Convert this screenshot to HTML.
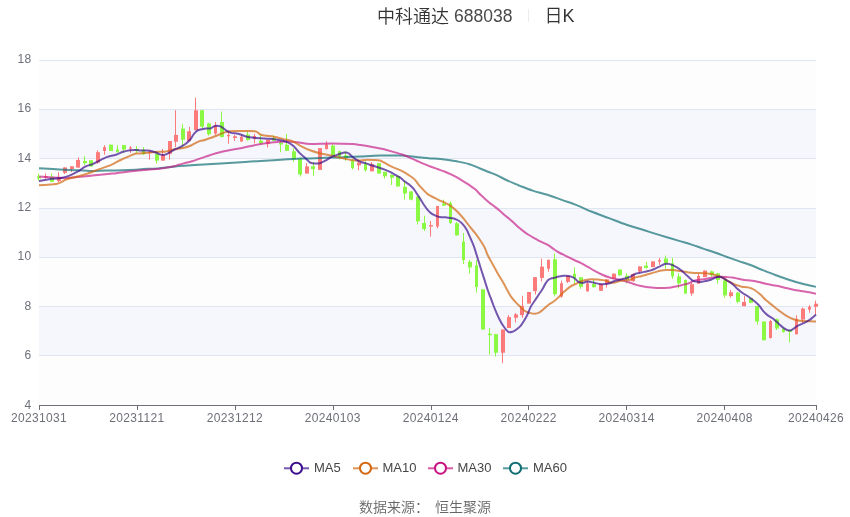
<!DOCTYPE html>
<html><head><meta charset="utf-8"><title>中科通达 688038 日K</title>
<style>
html,body{margin:0;padding:0;background:#fff;}
body{width:850px;height:517px;position:relative;overflow:hidden;}
#root{position:absolute;left:0;top:0;width:850px;height:517px;will-change:transform;font-family:"Liberation Sans","Noto Sans CJK SC",sans-serif;}
.ax{font-family:"Liberation Sans",sans-serif;font-size:12px;fill:#6e7079;letter-spacing:0.35px;}
.title{position:absolute;top:5px;font-size:18px;color:#333;white-space:nowrap;line-height:24px;font-family:"Liberation Sans","Noto Sans CJK SC",sans-serif;font-weight:350;}
.sep{position:absolute;left:528px;top:9px;width:1px;height:13px;background:#ebecf0;}
.legend{position:absolute;top:459px;height:18px;}
.lg{position:absolute;top:0;height:18px;}
.lg span{position:absolute;left:30px;top:0;font-size:13px;line-height:18px;color:#464646;white-space:nowrap;}
.foot{position:absolute;top:497px;font-size:14px;line-height:20px;color:#666;white-space:nowrap;font-family:"Liberation Sans","Noto Sans CJK SC",sans-serif;font-weight:350;}
</style></head><body><div id="root">
<svg width="850" height="517" viewBox="0 0 850 517" style="position:absolute;left:0;top:0">
<rect x="39" y="61" width="777" height="48" fill="#fdfdfd" shape-rendering="crispEdges"/>
<rect x="39" y="110" width="777" height="48" fill="#f6f7fc" shape-rendering="crispEdges"/>
<rect x="39" y="159" width="777" height="49" fill="#fdfdfd" shape-rendering="crispEdges"/>
<rect x="39" y="209" width="777" height="48" fill="#f6f7fc" shape-rendering="crispEdges"/>
<rect x="39" y="258" width="777" height="48" fill="#fdfdfd" shape-rendering="crispEdges"/>
<rect x="39" y="307" width="777" height="48" fill="#f6f7fc" shape-rendering="crispEdges"/>
<rect x="39" y="356" width="777" height="49" fill="#fdfdfd" shape-rendering="crispEdges"/>
<rect x="39" y="60" width="777" height="1" fill="#e0e6f1" shape-rendering="crispEdges"/>
<rect x="39" y="109" width="777" height="1" fill="#e0e6f1" shape-rendering="crispEdges"/>
<rect x="39" y="158" width="777" height="1" fill="#e0e6f1" shape-rendering="crispEdges"/>
<rect x="39" y="208" width="777" height="1" fill="#e0e6f1" shape-rendering="crispEdges"/>
<rect x="39" y="257" width="777" height="1" fill="#e0e6f1" shape-rendering="crispEdges"/>
<rect x="39" y="306" width="777" height="1" fill="#e0e6f1" shape-rendering="crispEdges"/>
<rect x="39" y="355" width="777" height="1" fill="#e0e6f1" shape-rendering="crispEdges"/>
<rect x="39" y="405" width="777" height="1" fill="#6e7079" shape-rendering="crispEdges"/>
<rect x="39" y="405" width="1" height="5" fill="#6e7079" shape-rendering="crispEdges"/>
<rect x="137" y="405" width="1" height="5" fill="#6e7079" shape-rendering="crispEdges"/>
<rect x="235" y="405" width="1" height="5" fill="#6e7079" shape-rendering="crispEdges"/>
<rect x="333" y="405" width="1" height="5" fill="#6e7079" shape-rendering="crispEdges"/>
<rect x="431" y="405" width="1" height="5" fill="#6e7079" shape-rendering="crispEdges"/>
<rect x="528" y="405" width="1" height="5" fill="#6e7079" shape-rendering="crispEdges"/>
<rect x="626" y="405" width="1" height="5" fill="#6e7079" shape-rendering="crispEdges"/>
<rect x="724" y="405" width="1" height="5" fill="#6e7079" shape-rendering="crispEdges"/>
<rect x="816" y="405" width="1" height="5" fill="#6e7079" shape-rendering="crispEdges"/>
<text x="31.5" y="58.5" text-anchor="end" dominant-baseline="central" class="ax">18</text>
<text x="31.5" y="107.8" text-anchor="end" dominant-baseline="central" class="ax">16</text>
<text x="31.5" y="158.1" text-anchor="end" dominant-baseline="central" class="ax">14</text>
<text x="31.5" y="207.4" text-anchor="end" dominant-baseline="central" class="ax">12</text>
<text x="31.5" y="255.6" text-anchor="end" dominant-baseline="central" class="ax">10</text>
<text x="31.5" y="305.9" text-anchor="end" dominant-baseline="central" class="ax">8</text>
<text x="31.5" y="355.2" text-anchor="end" dominant-baseline="central" class="ax">6</text>
<text x="31.5" y="404.5" text-anchor="end" dominant-baseline="central" class="ax">4</text>
<text x="39.0" y="422" text-anchor="middle" class="ax">20231031</text>
<text x="136.9" y="422" text-anchor="middle" class="ax">20231121</text>
<text x="234.9" y="422" text-anchor="middle" class="ax">20231212</text>
<text x="332.8" y="422" text-anchor="middle" class="ax">20240103</text>
<text x="430.8" y="422" text-anchor="middle" class="ax">20240124</text>
<text x="528.7" y="422" text-anchor="middle" class="ax">20240222</text>
<text x="626.6" y="422" text-anchor="middle" class="ax">20240314</text>
<text x="724.6" y="422" text-anchor="middle" class="ax">20240408</text>
<text x="816.0" y="422" text-anchor="middle" class="ax">20240426</text>
<rect x="38" y="173.70" width="1" height="7.00" fill="#8bf944"/>
<rect x="37" y="176.50" width="4" height="2.00" fill="#8bf944"/>
<rect x="45" y="173.50" width="1" height="5.30" fill="#fd7a7a"/>
<rect x="44" y="176.30" width="4" height="1.30" fill="#fd7a7a"/>
<rect x="51" y="173.50" width="1" height="8.30" fill="#8bf944"/>
<rect x="50" y="176.80" width="4" height="5.00" fill="#8bf944"/>
<rect x="58" y="172.20" width="1" height="9.80" fill="#fd7a7a"/>
<rect x="57" y="176.90" width="4" height="4.20" fill="#fd7a7a"/>
<rect x="64" y="167.40" width="1" height="6.60" fill="#fd7a7a"/>
<rect x="63" y="167.40" width="4" height="5.50" fill="#fd7a7a"/>
<rect x="71" y="166.30" width="1" height="5.70" fill="#fd7a7a"/>
<rect x="70" y="166.30" width="4" height="2.70" fill="#fd7a7a"/>
<rect x="78" y="157.40" width="1" height="10.20" fill="#fd7a7a"/>
<rect x="76" y="159.90" width="4" height="7.70" fill="#fd7a7a"/>
<rect x="84" y="156.20" width="1" height="8.80" fill="#8bf944"/>
<rect x="83" y="161.00" width="4" height="2.20" fill="#8bf944"/>
<rect x="91" y="160.30" width="1" height="6.30" fill="#8bf944"/>
<rect x="89" y="160.30" width="4" height="6.10" fill="#8bf944"/>
<rect x="97" y="150.40" width="1" height="13.40" fill="#fd7a7a"/>
<rect x="96" y="152.20" width="4" height="10.50" fill="#fd7a7a"/>
<rect x="104" y="145.20" width="1" height="9.60" fill="#fd7a7a"/>
<rect x="103" y="147.10" width="3" height="3.90" fill="#fd7a7a"/>
<rect x="110" y="144.40" width="1" height="6.60" fill="#8bf944"/>
<rect x="109" y="144.70" width="4" height="6.30" fill="#8bf944"/>
<rect x="117" y="145.20" width="1" height="7.70" fill="#8bf944"/>
<rect x="116" y="149.50" width="3" height="2.40" fill="#8bf944"/>
<rect x="123" y="145.00" width="1" height="7.90" fill="#8bf944"/>
<rect x="122" y="145.00" width="4" height="4.50" fill="#8bf944"/>
<rect x="130" y="146.10" width="1" height="6.80" fill="#fd7a7a"/>
<rect x="129" y="147.40" width="3" height="1.10" fill="#fd7a7a"/>
<rect x="136" y="146.10" width="1" height="6.80" fill="#8bf944"/>
<rect x="135" y="149.00" width="4" height="2.00" fill="#8bf944"/>
<rect x="143" y="147.10" width="1" height="7.70" fill="#8bf944"/>
<rect x="142" y="149.50" width="3" height="4.80" fill="#8bf944"/>
<rect x="149" y="151.00" width="1" height="8.70" fill="#fd7a7a"/>
<rect x="148" y="152.00" width="4" height="1.00" fill="#fd7a7a"/>
<rect x="156" y="151.00" width="1" height="12.50" fill="#8bf944"/>
<rect x="155" y="153.90" width="4" height="6.70" fill="#8bf944"/>
<rect x="162" y="149.00" width="1" height="11.60" fill="#fd7a7a"/>
<rect x="161" y="154.80" width="4" height="5.80" fill="#fd7a7a"/>
<rect x="169" y="141.00" width="1" height="18.70" fill="#fd7a7a"/>
<rect x="168" y="141.00" width="4" height="12.90" fill="#fd7a7a"/>
<rect x="175" y="110.20" width="1" height="36.90" fill="#fd7a7a"/>
<rect x="174" y="134.90" width="4" height="6.80" fill="#fd7a7a"/>
<rect x="182" y="124.10" width="1" height="22.30" fill="#8bf944"/>
<rect x="181" y="128.60" width="4" height="11.10" fill="#8bf944"/>
<rect x="189" y="126.80" width="1" height="14.20" fill="#fd7a7a"/>
<rect x="187" y="131.30" width="4" height="9.70" fill="#fd7a7a"/>
<rect x="195" y="97.70" width="1" height="32.40" fill="#fd7a7a"/>
<rect x="194" y="110.30" width="4" height="19.80" fill="#fd7a7a"/>
<rect x="202" y="110.20" width="1" height="18.10" fill="#8bf944"/>
<rect x="200" y="110.20" width="4" height="16.50" fill="#8bf944"/>
<rect x="208" y="122.70" width="1" height="12.90" fill="#8bf944"/>
<rect x="207" y="123.40" width="4" height="10.80" fill="#8bf944"/>
<rect x="215" y="122.00" width="1" height="12.90" fill="#fd7a7a"/>
<rect x="214" y="125.40" width="3" height="8.20" fill="#fd7a7a"/>
<rect x="221" y="111.50" width="1" height="26.10" fill="#8bf944"/>
<rect x="220" y="122.00" width="4" height="15.00" fill="#8bf944"/>
<rect x="228" y="131.50" width="1" height="12.20" fill="#fd7a7a"/>
<rect x="227" y="134.90" width="3" height="1.40" fill="#fd7a7a"/>
<rect x="234" y="134.90" width="1" height="6.10" fill="#fd7a7a"/>
<rect x="233" y="136.30" width="4" height="1.70" fill="#fd7a7a"/>
<rect x="241" y="134.60" width="1" height="6.90" fill="#fd7a7a"/>
<rect x="240" y="136.80" width="3" height="4.70" fill="#fd7a7a"/>
<rect x="247" y="131.20" width="1" height="9.50" fill="#8bf944"/>
<rect x="246" y="134.60" width="4" height="5.40" fill="#8bf944"/>
<rect x="254" y="134.00" width="1" height="9.40" fill="#fd7a7a"/>
<rect x="253" y="136.00" width="3" height="2.70" fill="#fd7a7a"/>
<rect x="260" y="134.00" width="1" height="10.80" fill="#8bf944"/>
<rect x="259" y="140.70" width="4" height="2.70" fill="#8bf944"/>
<rect x="267" y="139.40" width="1" height="8.10" fill="#fd7a7a"/>
<rect x="266" y="140.00" width="4" height="4.10" fill="#fd7a7a"/>
<rect x="273" y="135.30" width="1" height="6.10" fill="#8bf944"/>
<rect x="272" y="138.00" width="4" height="2.70" fill="#8bf944"/>
<rect x="280" y="141.40" width="1" height="10.80" fill="#8bf944"/>
<rect x="279" y="142.70" width="4" height="1.80" fill="#8bf944"/>
<rect x="286" y="134.00" width="1" height="16.90" fill="#8bf944"/>
<rect x="285" y="144.80" width="4" height="6.10" fill="#8bf944"/>
<rect x="293" y="148.20" width="1" height="13.50" fill="#8bf944"/>
<rect x="292" y="151.30" width="4" height="7.70" fill="#8bf944"/>
<rect x="300" y="157.60" width="1" height="19.00" fill="#8bf944"/>
<rect x="298" y="159.00" width="4" height="15.50" fill="#8bf944"/>
<rect x="306" y="163.00" width="1" height="10.50" fill="#fd7a7a"/>
<rect x="305" y="166.40" width="4" height="7.10" fill="#fd7a7a"/>
<rect x="313" y="162.10" width="1" height="13.80" fill="#8bf944"/>
<rect x="311" y="166.20" width="4" height="2.90" fill="#8bf944"/>
<rect x="319" y="148.10" width="1" height="21.80" fill="#fd7a7a"/>
<rect x="318" y="148.10" width="4" height="21.80" fill="#fd7a7a"/>
<rect x="326" y="141.10" width="1" height="8.10" fill="#fd7a7a"/>
<rect x="325" y="144.50" width="3" height="4.70" fill="#fd7a7a"/>
<rect x="332" y="144.50" width="1" height="10.80" fill="#8bf944"/>
<rect x="331" y="145.60" width="4" height="9.70" fill="#8bf944"/>
<rect x="339" y="150.60" width="1" height="8.80" fill="#8bf944"/>
<rect x="338" y="151.20" width="3" height="5.50" fill="#8bf944"/>
<rect x="345" y="151.20" width="1" height="9.50" fill="#8bf944"/>
<rect x="344" y="155.30" width="4" height="2.70" fill="#8bf944"/>
<rect x="352" y="158.70" width="1" height="10.80" fill="#8bf944"/>
<rect x="351" y="160.70" width="3" height="7.50" fill="#8bf944"/>
<rect x="358" y="159.40" width="1" height="10.80" fill="#fd7a7a"/>
<rect x="357" y="162.70" width="4" height="2.70" fill="#fd7a7a"/>
<rect x="365" y="161.40" width="1" height="10.10" fill="#8bf944"/>
<rect x="364" y="163.40" width="3" height="6.80" fill="#8bf944"/>
<rect x="371" y="162.00" width="1" height="9.30" fill="#fd7a7a"/>
<rect x="370" y="164.10" width="4" height="7.20" fill="#fd7a7a"/>
<rect x="378" y="163.10" width="1" height="10.50" fill="#8bf944"/>
<rect x="377" y="163.10" width="4" height="10.50" fill="#8bf944"/>
<rect x="384" y="171.80" width="1" height="6.80" fill="#8bf944"/>
<rect x="383" y="171.80" width="4" height="4.50" fill="#8bf944"/>
<rect x="391" y="174.20" width="1" height="10.80" fill="#8bf944"/>
<rect x="390" y="175.00" width="4" height="2.70" fill="#8bf944"/>
<rect x="397" y="176.10" width="1" height="10.40" fill="#8bf944"/>
<rect x="396" y="176.10" width="4" height="10.40" fill="#8bf944"/>
<rect x="404" y="181.30" width="1" height="18.30" fill="#8bf944"/>
<rect x="403" y="186.90" width="4" height="6.60" fill="#8bf944"/>
<rect x="411" y="191.40" width="1" height="9.00" fill="#8bf944"/>
<rect x="409" y="191.40" width="4" height="8.20" fill="#8bf944"/>
<rect x="417" y="196.60" width="1" height="27.80" fill="#8bf944"/>
<rect x="416" y="196.60" width="4" height="24.70" fill="#8bf944"/>
<rect x="424" y="215.70" width="1" height="15.20" fill="#8bf944"/>
<rect x="422" y="223.00" width="4" height="6.10" fill="#8bf944"/>
<rect x="430" y="221.00" width="1" height="15.60" fill="#fd7a7a"/>
<rect x="429" y="225.10" width="4" height="1.40" fill="#fd7a7a"/>
<rect x="437" y="206.00" width="1" height="22.30" fill="#fd7a7a"/>
<rect x="436" y="206.00" width="3" height="20.50" fill="#fd7a7a"/>
<rect x="443" y="199.60" width="1" height="6.10" fill="#8bf944"/>
<rect x="442" y="203.60" width="4" height="2.10" fill="#8bf944"/>
<rect x="450" y="201.30" width="1" height="22.60" fill="#8bf944"/>
<rect x="449" y="203.00" width="3" height="20.00" fill="#8bf944"/>
<rect x="456" y="222.00" width="1" height="13.60" fill="#8bf944"/>
<rect x="455" y="223.30" width="4" height="12.10" fill="#8bf944"/>
<rect x="463" y="232.90" width="1" height="31.10" fill="#8bf944"/>
<rect x="462" y="241.70" width="3" height="18.30" fill="#8bf944"/>
<rect x="469" y="260.00" width="1" height="13.50" fill="#8bf944"/>
<rect x="468" y="261.70" width="4" height="5.70" fill="#8bf944"/>
<rect x="476" y="260.00" width="1" height="32.70" fill="#8bf944"/>
<rect x="475" y="265.40" width="3" height="21.60" fill="#8bf944"/>
<rect x="482" y="289.30" width="1" height="40.20" fill="#8bf944"/>
<rect x="481" y="289.30" width="4" height="40.20" fill="#8bf944"/>
<rect x="489" y="328.00" width="1" height="26.60" fill="#8bf944"/>
<rect x="488" y="333.70" width="4" height="1.50" fill="#8bf944"/>
<rect x="495" y="334.10" width="1" height="22.30" fill="#8bf944"/>
<rect x="494" y="334.10" width="4" height="18.60" fill="#8bf944"/>
<rect x="502" y="329.50" width="1" height="33.60" fill="#fd7a7a"/>
<rect x="501" y="329.50" width="4" height="23.20" fill="#fd7a7a"/>
<rect x="508" y="315.10" width="1" height="12.90" fill="#fd7a7a"/>
<rect x="507" y="317.10" width="4" height="10.90" fill="#fd7a7a"/>
<rect x="515" y="313.10" width="1" height="9.30" fill="#fd7a7a"/>
<rect x="514" y="314.40" width="4" height="3.40" fill="#fd7a7a"/>
<rect x="522" y="295.80" width="1" height="22.00" fill="#fd7a7a"/>
<rect x="520" y="305.90" width="4" height="9.20" fill="#fd7a7a"/>
<rect x="528" y="292.00" width="1" height="11.50" fill="#fd7a7a"/>
<rect x="527" y="292.00" width="4" height="11.50" fill="#fd7a7a"/>
<rect x="535" y="277.20" width="1" height="17.30" fill="#fd7a7a"/>
<rect x="533" y="277.20" width="4" height="13.90" fill="#fd7a7a"/>
<rect x="541" y="258.60" width="1" height="22.90" fill="#fd7a7a"/>
<rect x="540" y="266.60" width="4" height="11.30" fill="#fd7a7a"/>
<rect x="548" y="259.80" width="1" height="11.90" fill="#fd7a7a"/>
<rect x="547" y="259.80" width="3" height="8.80" fill="#fd7a7a"/>
<rect x="554" y="253.60" width="1" height="42.90" fill="#8bf944"/>
<rect x="553" y="259.30" width="4" height="34.90" fill="#8bf944"/>
<rect x="561" y="280.60" width="1" height="17.00" fill="#fd7a7a"/>
<rect x="560" y="283.30" width="3" height="13.20" fill="#fd7a7a"/>
<rect x="567" y="275.90" width="1" height="7.10" fill="#fd7a7a"/>
<rect x="566" y="275.90" width="4" height="5.90" fill="#fd7a7a"/>
<rect x="574" y="267.40" width="1" height="16.20" fill="#8bf944"/>
<rect x="573" y="273.80" width="3" height="4.00" fill="#8bf944"/>
<rect x="580" y="277.30" width="1" height="11.60" fill="#8bf944"/>
<rect x="579" y="277.30" width="4" height="9.50" fill="#8bf944"/>
<rect x="587" y="281.00" width="1" height="10.40" fill="#fd7a7a"/>
<rect x="586" y="283.30" width="3" height="8.10" fill="#fd7a7a"/>
<rect x="593" y="279.90" width="1" height="7.80" fill="#8bf944"/>
<rect x="592" y="284.10" width="4" height="3.10" fill="#8bf944"/>
<rect x="600" y="284.10" width="1" height="6.90" fill="#fd7a7a"/>
<rect x="599" y="284.10" width="4" height="6.70" fill="#fd7a7a"/>
<rect x="606" y="279.00" width="1" height="8.50" fill="#fd7a7a"/>
<rect x="605" y="279.40" width="4" height="4.60" fill="#fd7a7a"/>
<rect x="613" y="273.60" width="1" height="5.60" fill="#fd7a7a"/>
<rect x="612" y="273.60" width="4" height="5.20" fill="#fd7a7a"/>
<rect x="619" y="269.50" width="1" height="6.60" fill="#8bf944"/>
<rect x="618" y="269.50" width="4" height="5.70" fill="#8bf944"/>
<rect x="626" y="273.30" width="1" height="10.10" fill="#8bf944"/>
<rect x="625" y="275.70" width="4" height="3.50" fill="#8bf944"/>
<rect x="633" y="273.30" width="1" height="8.60" fill="#fd7a7a"/>
<rect x="631" y="274.10" width="4" height="7.00" fill="#fd7a7a"/>
<rect x="639" y="266.40" width="1" height="6.60" fill="#fd7a7a"/>
<rect x="638" y="266.40" width="4" height="5.10" fill="#fd7a7a"/>
<rect x="646" y="261.70" width="1" height="7.00" fill="#8bf944"/>
<rect x="644" y="265.60" width="4" height="2.30" fill="#8bf944"/>
<rect x="652" y="261.40" width="1" height="5.70" fill="#fd7a7a"/>
<rect x="651" y="261.40" width="4" height="5.70" fill="#fd7a7a"/>
<rect x="659" y="257.90" width="1" height="6.90" fill="#fd7a7a"/>
<rect x="658" y="260.20" width="3" height="1.50" fill="#fd7a7a"/>
<rect x="665" y="255.50" width="1" height="13.20" fill="#8bf944"/>
<rect x="664" y="258.60" width="4" height="4.70" fill="#8bf944"/>
<rect x="672" y="257.90" width="1" height="20.90" fill="#8bf944"/>
<rect x="671" y="263.30" width="3" height="13.10" fill="#8bf944"/>
<rect x="678" y="273.30" width="1" height="15.20" fill="#8bf944"/>
<rect x="677" y="276.40" width="4" height="7.00" fill="#8bf944"/>
<rect x="685" y="279.50" width="1" height="14.30" fill="#8bf944"/>
<rect x="684" y="279.90" width="3" height="13.60" fill="#8bf944"/>
<rect x="691" y="282.20" width="1" height="13.50" fill="#fd7a7a"/>
<rect x="690" y="284.20" width="4" height="9.30" fill="#fd7a7a"/>
<rect x="698" y="273.70" width="1" height="10.00" fill="#fd7a7a"/>
<rect x="697" y="276.00" width="3" height="7.70" fill="#fd7a7a"/>
<rect x="704" y="270.30" width="1" height="6.80" fill="#fd7a7a"/>
<rect x="703" y="270.60" width="4" height="6.50" fill="#fd7a7a"/>
<rect x="711" y="270.60" width="1" height="5.90" fill="#8bf944"/>
<rect x="710" y="271.40" width="4" height="3.80" fill="#8bf944"/>
<rect x="717" y="272.90" width="1" height="10.80" fill="#8bf944"/>
<rect x="716" y="273.40" width="4" height="6.50" fill="#8bf944"/>
<rect x="724" y="280.00" width="1" height="17.60" fill="#8bf944"/>
<rect x="723" y="280.50" width="4" height="14.90" fill="#8bf944"/>
<rect x="730" y="290.00" width="1" height="7.70" fill="#fd7a7a"/>
<rect x="729" y="292.30" width="4" height="3.80" fill="#fd7a7a"/>
<rect x="737" y="292.00" width="1" height="11.10" fill="#8bf944"/>
<rect x="736" y="292.60" width="4" height="9.30" fill="#8bf944"/>
<rect x="744" y="296.10" width="1" height="10.10" fill="#fd7a7a"/>
<rect x="742" y="301.90" width="4" height="4.30" fill="#fd7a7a"/>
<rect x="750" y="297.70" width="1" height="5.40" fill="#8bf944"/>
<rect x="749" y="298.10" width="4" height="4.70" fill="#8bf944"/>
<rect x="757" y="306.00" width="1" height="18.60" fill="#8bf944"/>
<rect x="755" y="306.00" width="4" height="15.50" fill="#8bf944"/>
<rect x="763" y="321.50" width="1" height="19.30" fill="#8bf944"/>
<rect x="762" y="321.50" width="4" height="18.60" fill="#8bf944"/>
<rect x="770" y="320.00" width="1" height="18.50" fill="#fd7a7a"/>
<rect x="769" y="321.00" width="3" height="17.00" fill="#fd7a7a"/>
<rect x="776" y="318.40" width="1" height="11.60" fill="#8bf944"/>
<rect x="775" y="319.20" width="4" height="9.30" fill="#8bf944"/>
<rect x="783" y="327.70" width="1" height="5.10" fill="#8bf944"/>
<rect x="782" y="328.80" width="3" height="3.10" fill="#8bf944"/>
<rect x="789" y="330.00" width="1" height="12.40" fill="#8bf944"/>
<rect x="788" y="330.00" width="4" height="1.90" fill="#8bf944"/>
<rect x="796" y="315.30" width="1" height="19.00" fill="#fd7a7a"/>
<rect x="795" y="319.20" width="3" height="15.10" fill="#fd7a7a"/>
<rect x="802" y="307.60" width="1" height="15.00" fill="#fd7a7a"/>
<rect x="801" y="308.60" width="4" height="10.90" fill="#fd7a7a"/>
<rect x="809" y="304.90" width="1" height="7.80" fill="#fd7a7a"/>
<rect x="808" y="306.80" width="3" height="2.80" fill="#fd7a7a"/>
<rect x="815" y="300.60" width="1" height="13.90" fill="#fd7a7a"/>
<rect x="814" y="303.70" width="4" height="3.10" fill="#fd7a7a"/>
<path d="M39.00,168.20 C42.42,168.40 52.17,169.00 59.50,169.40 C66.83,169.80 77.50,170.33 83.00,170.60 C88.50,170.87 88.57,171.00 92.50,171.00 C96.43,171.00 99.35,170.80 106.60,170.60 C113.85,170.40 129.87,170.07 136.00,169.80 C142.13,169.53 139.75,169.23 143.40,169.00 C147.05,168.77 152.63,168.83 157.90,168.40 C163.17,167.97 168.18,167.02 175.00,166.40 C181.82,165.78 187.13,165.43 198.80,164.70 C210.47,163.97 234.75,162.62 245.00,162.00 C255.25,161.38 254.37,161.38 260.30,161.00 C266.23,160.62 273.83,160.10 280.60,159.70 C287.37,159.30 296.00,158.80 300.90,158.60 C305.80,158.40 304.95,158.67 310.00,158.50 C315.05,158.33 325.37,157.82 331.20,157.60 C337.03,157.38 340.20,157.38 345.00,157.20 C349.80,157.02 354.17,156.77 360.00,156.50 C365.83,156.23 374.17,155.75 380.00,155.60 C385.83,155.45 391.32,155.62 395.00,155.60 C398.68,155.58 399.75,155.40 402.10,155.50 C404.45,155.60 406.75,155.95 409.10,156.20 C411.45,156.45 413.85,156.73 416.20,157.00 C418.55,157.27 420.85,157.57 423.20,157.80 C425.55,158.03 427.95,158.23 430.30,158.40 C432.65,158.57 434.95,158.62 437.30,158.80 C439.65,158.98 442.03,159.22 444.40,159.50 C446.77,159.78 449.45,160.20 451.50,160.50 C453.55,160.80 453.83,160.72 456.70,161.30 C459.57,161.88 464.90,162.85 468.70,164.00 C472.50,165.15 476.15,166.87 479.50,168.20 C482.85,169.53 485.95,170.85 488.80,172.00 C491.65,173.15 493.50,173.68 496.60,175.10 C499.70,176.52 504.05,178.95 507.40,180.50 C510.75,182.05 514.60,183.50 516.70,184.40 C518.80,185.30 517.33,184.87 520.00,185.90 C522.67,186.93 528.12,189.12 532.70,190.60 C537.28,192.08 542.55,193.22 547.50,194.80 C552.45,196.38 557.45,198.33 562.40,200.10 C567.35,201.87 572.27,203.45 577.20,205.40 C582.13,207.35 586.70,209.68 592.00,211.80 C597.30,213.92 603.35,215.98 609.00,218.10 C614.65,220.22 620.25,222.55 625.90,224.50 C631.55,226.45 637.25,228.03 642.90,229.80 C648.55,231.57 653.62,233.22 659.80,235.10 C665.98,236.98 674.70,239.52 680.00,241.10 C685.30,242.68 687.73,243.35 691.60,244.60 C695.47,245.85 699.33,247.28 703.20,248.60 C707.07,249.92 710.93,251.15 714.80,252.50 C718.67,253.85 722.52,255.30 726.40,256.70 C730.28,258.10 734.22,259.55 738.10,260.90 C741.98,262.25 745.83,263.37 749.70,264.80 C753.57,266.23 757.03,267.80 761.30,269.50 C765.57,271.20 770.72,273.30 775.30,275.00 C779.88,276.70 784.28,278.23 788.80,279.70 C793.32,281.17 797.87,282.60 802.40,283.80 C806.93,285.00 813.73,286.38 816.00,286.90" fill="none" stroke="#0f6e73" stroke-width="2" stroke-opacity="0.7" stroke-linejoin="round"/>
<path d="M39.00,176.50 C41.43,176.68 49.20,177.32 53.60,177.60 C58.00,177.88 61.47,178.28 65.40,178.20 C69.33,178.12 72.30,177.58 77.20,177.10 C82.10,176.62 88.92,175.90 94.80,175.30 C100.68,174.70 105.97,174.22 112.50,173.50 C119.03,172.78 127.25,171.70 134.00,171.00 C140.75,170.30 147.90,169.82 153.00,169.30 C158.10,168.78 160.93,168.45 164.60,167.90 C168.27,167.35 172.68,166.53 175.00,166.00 C177.32,165.47 175.67,165.48 178.50,164.70 C181.33,163.92 187.48,162.65 192.00,161.30 C196.52,159.95 200.63,158.18 205.60,156.60 C210.57,155.02 215.73,153.23 221.80,151.80 C227.87,150.37 236.72,149.07 242.00,148.00 C247.28,146.93 249.32,146.22 253.50,145.40 C257.68,144.58 262.58,143.70 267.10,143.10 C271.62,142.50 276.55,142.03 280.60,141.80 C284.65,141.57 288.02,141.55 291.40,141.70 C294.78,141.85 297.80,142.32 300.90,142.70 C304.00,143.08 304.95,143.87 310.00,144.00 C315.05,144.13 324.13,143.50 331.20,143.50 C338.27,143.50 347.47,143.73 352.40,144.00 C357.33,144.27 357.28,144.57 360.80,145.10 C364.32,145.63 369.62,146.50 373.50,147.20 C377.38,147.90 380.52,148.43 384.10,149.30 C387.68,150.17 392.00,151.53 395.00,152.40 C398.00,153.27 399.75,153.68 402.10,154.50 C404.45,155.32 406.75,156.30 409.10,157.30 C411.45,158.30 413.85,159.43 416.20,160.50 C418.55,161.57 420.85,162.70 423.20,163.70 C425.55,164.70 427.95,165.62 430.30,166.50 C432.65,167.38 434.95,168.17 437.30,169.00 C439.65,169.83 442.03,170.57 444.40,171.50 C446.77,172.43 449.65,173.75 451.50,174.60 C453.35,175.45 453.92,175.73 455.50,176.60 C457.08,177.47 458.80,178.45 461.00,179.80 C463.20,181.15 466.38,183.15 468.70,184.70 C471.02,186.25 472.83,187.35 474.90,189.10 C476.97,190.85 478.78,193.02 481.10,195.20 C483.42,197.38 486.48,200.25 488.80,202.20 C491.12,204.15 493.17,205.47 495.00,206.90 C496.83,208.33 498.18,209.42 499.80,210.80 C501.42,212.18 503.08,213.83 504.70,215.20 C506.32,216.57 507.88,217.63 509.50,219.00 C511.12,220.37 512.78,221.95 514.40,223.40 C516.02,224.85 517.60,226.33 519.20,227.70 C520.80,229.07 522.38,230.38 524.00,231.60 C525.62,232.82 527.28,233.95 528.90,235.00 C530.52,236.05 532.08,236.97 533.70,237.90 C535.32,238.83 536.98,239.78 538.60,240.60 C540.22,241.42 541.80,242.03 543.40,242.80 C545.00,243.57 546.58,244.23 548.20,245.20 C549.82,246.17 551.45,247.47 553.10,248.60 C554.75,249.73 554.58,250.10 558.10,252.00 C561.62,253.90 570.45,258.20 574.20,260.00 C577.95,261.80 578.37,261.68 580.60,262.80 C582.83,263.92 585.25,265.35 587.60,266.70 C589.95,268.05 592.33,269.60 594.70,270.90 C597.07,272.20 599.45,273.43 601.80,274.50 C604.15,275.57 606.45,276.53 608.80,277.30 C611.15,278.07 613.55,278.57 615.90,279.10 C618.25,279.63 620.50,279.88 622.90,280.50 C625.30,281.12 628.18,282.12 630.30,282.80 C632.42,283.48 633.82,284.07 635.60,284.60 C637.38,285.13 639.22,285.60 641.00,286.00 C642.78,286.40 644.53,286.73 646.30,287.00 C648.07,287.27 649.83,287.45 651.60,287.60 C653.37,287.75 655.13,287.83 656.90,287.90 C658.67,287.97 660.42,288.02 662.20,288.00 C663.98,287.98 665.82,287.97 667.60,287.80 C669.38,287.63 671.13,287.30 672.90,287.00 C674.67,286.70 676.43,286.40 678.20,286.00 C679.97,285.60 681.73,285.05 683.50,284.60 C685.27,284.15 686.88,283.98 688.80,283.30 C690.72,282.62 692.20,281.23 695.00,280.50 C697.80,279.77 702.05,279.47 705.60,278.90 C709.15,278.33 713.63,277.45 716.30,277.10 C718.97,276.75 719.83,276.80 721.60,276.80 C723.37,276.80 725.13,276.97 726.90,277.10 C728.67,277.23 730.42,277.35 732.20,277.60 C733.98,277.85 735.82,278.25 737.60,278.60 C739.38,278.95 741.13,279.42 742.90,279.70 C744.67,279.98 746.31,280.10 748.20,280.30 C750.09,280.50 751.32,280.32 754.25,280.90 C757.18,281.48 762.06,282.98 765.80,283.80 C769.54,284.62 773.08,285.05 776.70,285.80 C780.32,286.55 783.90,287.50 787.50,288.30 C791.10,289.10 794.68,289.93 798.30,290.60 C801.92,291.27 806.25,291.78 809.20,292.30 C812.15,292.82 814.87,293.47 816.00,293.70" fill="none" stroke="#c8228a" stroke-width="2" stroke-opacity="0.7" stroke-linejoin="round"/>
<path d="M39.00,185.30 C40.47,185.20 44.97,184.90 47.80,184.70 C50.63,184.50 53.85,184.48 56.00,184.10 C58.15,183.72 58.93,183.18 60.70,182.40 C62.47,181.62 63.85,180.38 66.60,179.40 C69.35,178.42 73.67,177.48 77.20,176.50 C80.73,175.52 84.27,174.68 87.80,173.50 C91.33,172.32 94.68,170.77 98.40,169.40 C102.12,168.03 106.38,166.87 110.10,165.30 C113.82,163.73 117.37,161.57 120.70,160.00 C124.03,158.43 127.55,156.98 130.10,155.90 C132.65,154.82 134.35,153.88 136.00,153.50 C137.65,153.12 137.67,153.75 140.00,153.60 C142.33,153.45 146.67,152.90 150.00,152.60 C153.33,152.30 157.37,151.98 160.00,151.80 C162.63,151.62 163.87,151.80 165.80,151.50 C167.73,151.20 169.67,150.43 171.60,150.00 C173.53,149.57 175.47,149.23 177.40,148.90 C179.33,148.57 181.27,148.43 183.20,148.00 C185.13,147.57 187.07,147.07 189.00,146.30 C190.93,145.53 192.97,144.28 194.80,143.40 C196.63,142.52 198.20,141.62 200.00,141.00 C201.80,140.38 203.10,140.48 205.60,139.70 C208.10,138.92 212.07,137.43 215.00,136.30 C217.93,135.17 220.70,133.73 223.20,132.90 C225.70,132.07 227.20,131.60 230.00,131.30 C232.80,131.00 235.85,131.12 240.00,131.10 C244.15,131.08 251.28,130.55 254.90,131.20 C258.52,131.85 258.55,134.08 261.70,135.00 C264.85,135.92 270.20,136.02 273.80,136.70 C277.40,137.38 280.13,138.32 283.30,139.10 C286.47,139.88 289.87,140.23 292.80,141.40 C295.73,142.57 298.03,144.62 300.90,146.10 C303.77,147.58 306.72,149.07 310.00,150.30 C313.28,151.53 317.07,152.62 320.60,153.50 C324.13,154.38 328.03,154.92 331.20,155.60 C334.37,156.28 337.30,157.07 339.60,157.60 C341.90,158.13 343.13,158.42 345.00,158.80 C346.87,159.18 348.52,159.62 350.80,159.90 C353.08,160.18 356.33,160.50 358.70,160.50 C361.07,160.50 362.53,159.98 365.00,159.90 C367.47,159.82 371.02,159.90 373.50,160.00 C375.98,160.10 378.13,160.08 379.90,160.50 C381.67,160.92 382.33,161.55 384.10,162.50 C385.87,163.45 388.68,165.27 390.50,166.20 C392.32,167.13 393.07,167.28 395.00,168.10 C396.93,168.92 399.75,169.90 402.10,171.10 C404.45,172.30 406.98,173.88 409.10,175.30 C411.22,176.72 413.20,178.02 414.80,179.60 C416.40,181.18 417.32,183.13 418.70,184.80 C420.08,186.47 421.65,188.08 423.10,189.60 C424.55,191.12 425.95,192.75 427.40,193.90 C428.85,195.05 430.35,195.70 431.80,196.50 C433.25,197.30 434.65,197.97 436.10,198.70 C437.55,199.43 439.05,200.25 440.50,200.90 C441.95,201.55 442.95,201.65 444.80,202.60 C446.65,203.55 449.50,205.07 451.60,206.60 C453.70,208.13 455.47,209.87 457.40,211.80 C459.33,213.73 461.10,215.68 463.20,218.20 C465.30,220.72 468.07,224.48 470.00,226.90 C471.93,229.32 473.18,230.60 474.80,232.70 C476.42,234.80 478.08,237.08 479.70,239.50 C481.32,241.92 483.18,244.62 484.50,247.20 C485.82,249.78 486.28,252.25 487.60,255.00 C488.92,257.75 490.73,260.65 492.40,263.70 C494.07,266.75 495.85,270.25 497.60,273.30 C499.35,276.35 501.25,279.13 502.90,282.00 C504.55,284.87 506.15,288.07 507.50,290.50 C508.85,292.93 509.62,294.62 511.00,296.60 C512.38,298.58 514.20,300.63 515.80,302.40 C517.40,304.17 519.07,305.73 520.60,307.20 C522.13,308.67 523.47,310.25 525.00,311.20 C526.53,312.15 528.18,312.47 529.80,312.90 C531.42,313.33 533.08,313.88 534.70,313.80 C536.32,313.72 537.90,313.28 539.50,312.40 C541.10,311.52 542.68,309.87 544.30,308.50 C545.92,307.13 547.58,305.40 549.20,304.20 C550.82,303.00 552.40,302.52 554.00,301.30 C555.60,300.08 557.18,298.43 558.80,296.90 C560.42,295.37 561.83,293.78 563.70,292.10 C565.57,290.42 568.02,288.15 570.00,286.80 C571.98,285.45 573.83,284.88 575.60,284.00 C577.37,283.12 578.95,282.15 580.60,281.50 C582.25,280.85 583.73,280.48 585.50,280.10 C587.27,279.72 589.08,279.28 591.20,279.20 C593.32,279.12 595.85,279.38 598.20,279.60 C600.55,279.82 603.18,279.98 605.30,280.50 C607.42,281.02 609.25,282.37 610.90,282.70 C612.55,283.03 613.55,282.82 615.20,282.50 C616.85,282.18 618.92,281.20 620.80,280.80 C622.68,280.40 624.97,280.27 626.50,280.10 C628.03,279.93 628.48,280.25 630.00,279.80 C631.52,279.35 633.77,278.00 635.60,277.40 C637.43,276.80 639.22,276.63 641.00,276.20 C642.78,275.77 644.53,275.30 646.30,274.80 C648.07,274.30 649.83,273.73 651.60,273.20 C653.37,272.67 655.33,272.03 656.90,271.60 C658.47,271.17 659.58,270.87 661.00,270.60 C662.42,270.33 663.42,270.10 665.40,270.00 C667.38,269.90 670.42,269.82 672.90,270.00 C675.38,270.18 677.65,270.70 680.30,271.10 C682.95,271.50 686.35,272.10 688.80,272.40 C691.25,272.70 692.20,272.75 695.00,272.90 C697.80,273.05 702.05,272.92 705.60,273.30 C709.15,273.68 713.45,274.43 716.30,275.20 C719.15,275.97 720.58,276.83 722.70,277.90 C724.82,278.97 726.88,280.45 729.00,281.60 C731.12,282.75 733.27,283.95 735.40,284.80 C737.53,285.65 739.67,286.27 741.80,286.70 C743.93,287.13 746.12,286.89 748.20,287.40 C750.28,287.91 752.22,288.55 754.25,289.75 C756.28,290.95 758.48,292.89 760.40,294.60 C762.32,296.31 763.77,298.18 765.80,300.00 C767.83,301.82 770.33,303.68 772.60,305.50 C774.87,307.32 777.15,309.22 779.40,310.90 C781.65,312.58 783.85,314.25 786.10,315.60 C788.35,316.95 790.63,318.13 792.90,319.00 C795.17,319.87 796.98,320.42 799.70,320.80 C802.42,321.18 806.48,321.20 809.20,321.30 C811.92,321.40 814.87,321.38 816.00,321.40" fill="none" stroke="#d2670f" stroke-width="2" stroke-opacity="0.7" stroke-linejoin="round"/>
<path d="M39.00,181.20 C40.47,180.90 44.38,179.90 47.80,179.40 C51.22,178.90 55.98,178.78 59.50,178.20 C63.02,177.62 65.75,177.07 68.90,175.90 C72.05,174.73 75.65,172.77 78.40,171.20 C81.15,169.63 83.05,167.68 85.40,166.50 C87.75,165.32 90.15,165.08 92.50,164.10 C94.85,163.12 97.15,161.77 99.50,160.60 C101.85,159.43 103.85,158.08 106.60,157.10 C109.35,156.12 113.25,155.58 116.00,154.70 C118.75,153.82 120.75,152.55 123.10,151.80 C125.45,151.05 127.85,150.50 130.10,150.20 C132.35,149.90 134.95,149.97 136.60,150.00 C138.25,150.03 138.43,150.32 140.00,150.40 C141.57,150.48 144.33,150.45 146.00,150.50 C147.67,150.55 148.87,150.53 150.00,150.70 C151.13,150.87 151.57,151.08 152.80,151.50 C154.03,151.92 156.20,152.72 157.40,153.20 C158.60,153.68 159.08,154.10 160.00,154.40 C160.92,154.70 161.93,155.00 162.90,155.00 C163.87,155.00 164.83,154.75 165.80,154.40 C166.77,154.05 167.73,153.43 168.70,152.90 C169.67,152.37 170.63,151.77 171.60,151.20 C172.57,150.63 173.53,149.98 174.50,149.50 C175.47,149.02 176.43,148.70 177.40,148.30 C178.37,147.90 179.33,147.58 180.30,147.10 C181.27,146.62 182.23,146.02 183.20,145.40 C184.17,144.78 184.93,144.38 186.10,143.40 C187.27,142.43 188.89,141.13 190.20,139.55 C191.51,137.97 192.65,135.45 193.95,133.90 C195.25,132.35 196.06,131.13 198.00,130.25 C199.94,129.37 203.43,128.94 205.60,128.60 C207.77,128.26 209.43,128.65 211.00,128.20 C212.57,127.75 213.42,126.20 215.00,125.90 C216.58,125.60 218.68,125.68 220.50,126.40 C222.32,127.12 224.10,129.12 225.90,130.20 C227.70,131.28 229.27,132.30 231.30,132.90 C233.33,133.50 235.52,133.17 238.10,133.80 C240.68,134.43 244.23,136.05 246.80,136.70 C249.37,137.35 250.12,137.37 253.50,137.70 C256.88,138.03 262.82,138.32 267.10,138.70 C271.38,139.08 275.82,139.43 279.20,140.00 C282.58,140.57 285.02,141.08 287.40,142.10 C289.78,143.12 291.48,144.30 293.50,146.10 C295.52,147.90 297.37,150.75 299.50,152.90 C301.63,155.05 304.55,157.40 306.30,159.00 C308.05,160.60 308.50,161.73 310.00,162.50 C311.50,163.27 313.53,163.52 315.30,163.60 C317.07,163.68 318.83,163.53 320.60,163.00 C322.37,162.47 324.13,161.37 325.90,160.40 C327.67,159.43 329.43,158.08 331.20,157.20 C332.97,156.32 334.92,155.72 336.50,155.10 C338.08,154.48 339.30,153.93 340.70,153.50 C342.10,153.07 343.67,152.58 344.90,152.50 C346.13,152.42 346.85,152.30 348.10,153.00 C349.35,153.70 350.98,155.55 352.40,156.70 C353.82,157.85 355.20,159.02 356.60,159.90 C358.00,160.78 359.22,161.42 360.80,162.00 C362.38,162.58 364.33,162.87 366.10,163.40 C367.87,163.93 369.45,164.55 371.40,165.20 C373.35,165.85 375.68,166.60 377.80,167.30 C379.92,168.00 381.98,168.60 384.10,169.40 C386.22,170.20 388.55,171.13 390.50,172.10 C392.45,173.07 394.22,174.32 395.80,175.20 C397.38,176.08 398.47,176.33 400.00,177.40 C401.53,178.47 403.33,180.30 405.00,181.60 C406.67,182.90 408.58,184.02 410.00,185.20 C411.42,186.38 412.33,187.25 413.50,188.70 C414.67,190.15 415.85,192.17 417.00,193.90 C418.15,195.63 419.25,197.28 420.40,199.10 C421.55,200.92 422.73,203.05 423.90,204.80 C425.07,206.55 426.23,208.22 427.40,209.60 C428.57,210.98 429.73,212.17 430.90,213.10 C432.07,214.03 433.23,214.62 434.40,215.20 C435.57,215.78 436.75,216.27 437.90,216.60 C439.05,216.93 439.97,217.07 441.30,217.20 C442.63,217.32 443.98,217.18 445.90,217.35 C447.82,217.52 450.88,217.76 452.80,218.20 C454.72,218.64 455.87,219.13 457.40,220.00 C458.93,220.87 460.45,221.77 462.00,223.40 C463.55,225.03 465.37,227.52 466.70,229.80 C468.03,232.08 468.80,234.35 470.00,237.10 C471.20,239.85 472.77,243.23 473.90,246.30 C475.03,249.37 475.75,252.13 476.80,255.50 C477.85,258.87 479.05,262.85 480.20,266.50 C481.35,270.15 482.45,273.48 483.70,277.40 C484.95,281.32 486.55,286.62 487.70,290.00 C488.85,293.38 489.63,295.12 490.60,297.70 C491.57,300.28 492.53,303.00 493.50,305.50 C494.47,308.00 495.43,310.45 496.40,312.70 C497.37,314.95 498.17,316.82 499.30,319.00 C500.43,321.18 501.70,323.66 503.20,325.80 C504.70,327.94 506.68,330.88 508.30,331.85 C509.92,332.82 511.48,332.04 512.90,331.60 C514.32,331.16 515.52,330.17 516.80,329.20 C518.08,328.23 519.32,327.33 520.60,325.80 C521.88,324.27 523.37,321.87 524.50,320.00 C525.63,318.13 526.35,316.83 527.40,314.60 C528.45,312.37 529.58,308.90 530.80,306.60 C532.02,304.30 533.42,302.73 534.70,300.80 C535.98,298.87 537.22,296.93 538.50,295.00 C539.78,293.07 541.27,291.05 542.40,289.20 C543.53,287.35 544.33,285.43 545.30,283.90 C546.27,282.37 547.23,280.90 548.20,280.00 C549.17,279.10 549.97,278.90 551.10,278.50 C552.23,278.10 553.72,277.92 555.00,277.60 C556.28,277.28 557.35,276.90 558.80,276.60 C560.25,276.30 562.03,275.88 563.70,275.80 C565.37,275.72 567.05,275.73 568.80,276.10 C570.55,276.47 572.58,277.03 574.20,278.00 C575.82,278.97 577.08,281.08 578.50,281.90 C579.92,282.72 581.18,282.97 582.70,282.90 C584.22,282.83 585.83,281.55 587.60,281.50 C589.37,281.45 591.30,282.18 593.30,282.60 C595.30,283.02 597.60,283.77 599.60,284.00 C601.60,284.23 603.65,284.12 605.30,284.00 C606.95,283.88 608.08,283.77 609.50,283.30 C610.92,282.83 612.15,281.78 613.80,281.20 C615.45,280.62 617.53,280.25 619.40,279.80 C621.27,279.35 623.23,278.98 625.00,278.50 C626.77,278.02 628.23,277.70 630.00,276.90 C631.77,276.10 633.77,274.42 635.60,273.70 C637.43,272.98 639.22,272.98 641.00,272.60 C642.78,272.22 644.63,271.77 646.30,271.40 C647.97,271.03 649.58,270.82 651.00,270.40 C652.42,269.98 653.28,269.58 654.80,268.90 C656.32,268.22 658.42,267.12 660.10,266.30 C661.78,265.48 663.30,264.37 664.90,264.00 C666.50,263.63 667.83,263.63 669.70,264.10 C671.57,264.57 674.15,265.73 676.10,266.80 C678.05,267.87 679.63,269.08 681.40,270.50 C683.17,271.92 684.93,273.70 686.70,275.30 C688.47,276.90 690.62,279.08 692.00,280.10 C693.38,281.12 693.62,281.07 695.00,281.40 C696.38,281.73 698.53,282.15 700.30,282.10 C702.07,282.05 703.82,281.50 705.60,281.10 C707.38,280.70 709.22,280.33 711.00,279.70 C712.78,279.07 714.88,277.78 716.30,277.30 C717.72,276.82 718.43,276.70 719.50,276.80 C720.57,276.90 721.47,277.28 722.70,277.90 C723.93,278.52 725.32,279.53 726.90,280.50 C728.48,281.47 730.42,282.28 732.20,283.70 C733.98,285.12 735.82,287.40 737.60,289.00 C739.38,290.60 741.13,292.05 742.90,293.30 C744.67,294.55 746.31,295.21 748.20,296.50 C750.09,297.79 752.43,299.55 754.25,301.05 C756.07,302.55 757.62,303.86 759.10,305.50 C760.58,307.14 761.75,309.33 763.10,310.90 C764.45,312.47 765.62,313.67 767.20,314.90 C768.78,316.13 770.80,316.93 772.60,318.30 C774.40,319.67 776.20,321.52 778.00,323.10 C779.80,324.68 781.60,326.57 783.40,327.80 C785.20,329.03 787.22,330.27 788.80,330.50 C790.38,330.73 791.53,329.92 792.90,329.20 C794.27,328.48 795.42,327.12 797.00,326.20 C798.58,325.28 800.60,324.57 802.40,323.70 C804.20,322.83 806.22,321.93 807.80,321.00 C809.38,320.07 810.53,319.18 811.90,318.10 C813.27,317.02 815.32,315.10 816.00,314.50" fill="none" stroke="#3c0f8c" stroke-width="2" stroke-opacity="0.7" stroke-linejoin="round"/>
</svg>
<div class="title" style="left:377px">中科通达 <span style="color:#4a4a4a;font-size:17.5px;position:relative;top:-1px">688038</span></div>
<div class="sep"></div>
<div class="title" style="left:544.5px;top:4px">日K</div>
<div class="lg" style="left:284.0px;top:459px;width:80px"><svg width="25" height="18" style="position:absolute;left:0;top:0"><line x1="0" y1="9.3" x2="25" y2="9.3" stroke="#3c0f8c" stroke-opacity="0.7" stroke-width="2"/><circle cx="12.5" cy="9.2" r="5.5" fill="#fff" stroke="#3c0f8c" stroke-width="2"/></svg><span>MA5</span></div>
<div class="lg" style="left:352.5px;top:459px;width:80px"><svg width="25" height="18" style="position:absolute;left:0;top:0"><line x1="0" y1="9.3" x2="25" y2="9.3" stroke="#d2670f" stroke-opacity="0.7" stroke-width="2"/><circle cx="12.5" cy="9.2" r="5.5" fill="#fff" stroke="#d2670f" stroke-width="2"/></svg><span>MA10</span></div>
<div class="lg" style="left:427.5px;top:459px;width:80px"><svg width="25" height="18" style="position:absolute;left:0;top:0"><line x1="0" y1="9.3" x2="25" y2="9.3" stroke="#c8147e" stroke-opacity="0.7" stroke-width="2"/><circle cx="12.5" cy="9.2" r="5.5" fill="#fff" stroke="#c8147e" stroke-width="2"/></svg><span>MA30</span></div>
<div class="lg" style="left:503.0px;top:459px;width:80px"><svg width="25" height="18" style="position:absolute;left:0;top:0"><line x1="0" y1="9.3" x2="25" y2="9.3" stroke="#0f6e73" stroke-opacity="0.7" stroke-width="2"/><circle cx="12.5" cy="9.2" r="5.5" fill="#fff" stroke="#0f6e73" stroke-width="2"/></svg><span>MA60</span></div>
<div class="foot" style="left:359px">数据来源：</div>
<div class="foot" style="left:435px">恒生聚源</div>
</div></body></html>
